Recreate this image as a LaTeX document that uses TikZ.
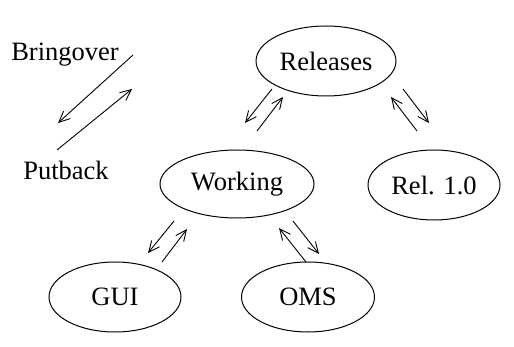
\documentclass[tikz,border=0pt]{standalone}
\usepackage{fontspec}
\setmainfont{Liberation Serif}
\usetikzlibrary{shapes.geometric,arrows.meta}
\begin{document}
\begin{tikzpicture}[x=1pt,y=-1pt,
  repo/.style={draw,ellipse,line width=1pt,inner sep=0pt,font=\fontsize{26.5}{30}\selectfont},
  lbl/.style={inner sep=0pt,font=\fontsize{26.5}{30}\selectfont},
  flow/.style={line width=0.9pt,-{Straight Barb[length=11pt,width=10pt,line width=0.9pt]}}]
\useasboundingbox (0,0) rectangle (514,347);
% repositories
\node[repo,minimum width=140pt,minimum height=70pt] (rel) at (326,61) {Releases};
\node[repo,minimum width=154pt,minimum height=68pt] (work) at (237,184) {Working};
\node[repo,minimum width=132pt,minimum height=70pt] (r10) at (434,185) {Rel. 1.0};
\node[repo,minimum width=132pt,minimum height=70pt] (gui) at (115,297) {GUI};
\node[repo,minimum width=133pt,minimum height=70pt] (oms) at (308,297) {OMS};
% legend labels
\node[lbl] (bring) at (65,55) {Bringover};
\node[lbl] (put) at (66,170) {Putback};
% legend arrows
\coordinate (b1) at (133,55); \coordinate (b2) at (58,123);
\coordinate (p1) at (57,150); \coordinate (p2) at (132,89);
\draw[flow] (b1) -- (b2);
\draw[flow] (p1) -- (p2);
% Releases <-> Working
\coordinate (rw1) at (272,89); \coordinate (rw2) at (245,123);
\coordinate (wr1) at (257,131); \coordinate (wr2) at (283,97);
\draw[flow] (rw1) -- (rw2);
\draw[flow] (wr1) -- (wr2);
% Releases <-> Rel. 1.0
\coordinate (rr1) at (403,89); \coordinate (rr2) at (429,123);
\coordinate (ru1) at (417,131); \coordinate (ru2) at (391,97);
\draw[flow] (rr1) -- (rr2);
\draw[flow] (ru1) -- (ru2);
% Working <-> GUI
\coordinate (wg1) at (174,221); \coordinate (wg2) at (148,253);
\coordinate (gw1) at (162,262); \coordinate (gw2) at (187,229);
\draw[flow] (wg1) -- (wg2);
\draw[flow] (gw1) -- (gw2);
% Working <-> OMS
\coordinate (wo1) at (293,221); \coordinate (wo2) at (319,254);
\coordinate (ow1) at (306,262); \coordinate (ow2) at (279,228);
\draw[flow] (wo1) -- (wo2);
\draw[flow] (ow1) -- (ow2);
\end{tikzpicture}
\end{document}
